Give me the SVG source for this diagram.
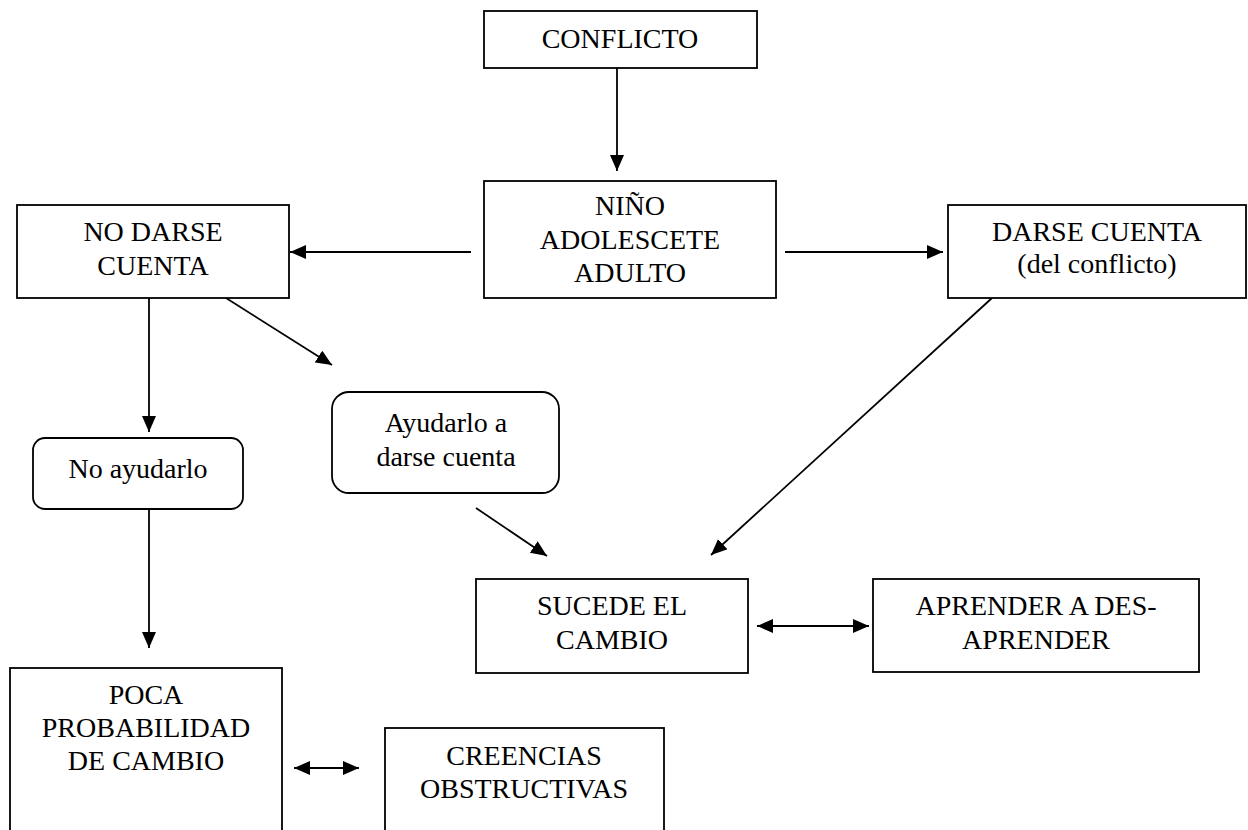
<svg xmlns="http://www.w3.org/2000/svg" width="1248" height="830" viewBox="0 0 1248 830">
  <defs>
    <marker id="head" markerUnits="userSpaceOnUse" markerWidth="17" markerHeight="15" refX="16" refY="7" orient="auto-start-reverse">
      <path d="M0,0 L16,7 L0,14 z" fill="#000"/>
    </marker>
    <style>
      .box { fill: #fff; stroke: #000; stroke-width: 1.8; }
      .lbl { font-family: "Liberation Serif", "Times New Roman", serif; font-size: 28px; fill: #000; text-anchor: middle; }
      .link { stroke: #000; stroke-width: 1.8; fill: none; marker-end: url(#head); }
      .both { marker-start: url(#head); }
    </style>
  </defs>
  <rect width="1248" height="830" fill="#fff"/>

  <g id="connectors">
    <line class="link" x1="617" y1="68" x2="617" y2="171"/>
    <line class="link" x1="471" y1="252" x2="290" y2="252"/>
    <line class="link" x1="785" y1="252" x2="943" y2="252"/>
    <line class="link" x1="149" y1="298" x2="149" y2="432"/>
    <line class="link" x1="226" y1="298" x2="332" y2="365"/>
    <line class="link" x1="149" y1="509" x2="149" y2="648"/>
    <line class="link" x1="476" y1="508" x2="547" y2="556"/>
    <line class="link" x1="992" y1="298" x2="711" y2="555"/>
    <line class="link both" x1="757" y1="626" x2="869" y2="626"/>
    <line class="link both" x1="294" y1="768" x2="359" y2="768"/>
  </g>

  <g id="conflicto">
    <rect class="box" x="484" y="11" width="273" height="57"/>
    <text class="lbl" x="620" y="48">CONFLICTO</text>
  </g>

  <g id="nino">
    <rect class="box" x="484" y="181" width="292" height="117"/>
    <text class="lbl" x="630" y="215">NIÑO</text>
    <text class="lbl" x="630" y="249">ADOLESCETE</text>
    <text class="lbl" x="630" y="282">ADULTO</text>
  </g>

  <g id="no-darse-cuenta">
    <rect class="box" x="17" y="205" width="272" height="93"/>
    <text class="lbl" x="153" y="241">NO DARSE</text>
    <text class="lbl" x="153" y="275">CUENTA</text>
  </g>

  <g id="darse-cuenta">
    <rect class="box" x="948" y="205" width="298" height="93"/>
    <text class="lbl" x="1097" y="241">DARSE CUENTA</text>
    <text class="lbl" x="1097" y="273">(del conflicto)</text>
  </g>

  <g id="no-ayudarlo">
    <rect class="box" x="33" y="438" width="210" height="71" rx="12" ry="12"/>
    <text class="lbl" x="138" y="478">No ayudarlo</text>
  </g>

  <g id="ayudarlo">
    <rect class="box" x="332" y="392" width="227" height="101" rx="17" ry="17"/>
    <text class="lbl" x="446" y="432">Ayudarlo a</text>
    <text class="lbl" x="446" y="466">darse cuenta</text>
  </g>

  <g id="sucede">
    <rect class="box" x="476" y="579" width="272" height="94"/>
    <text class="lbl" x="612" y="615">SUCEDE EL</text>
    <text class="lbl" x="612" y="649">CAMBIO</text>
  </g>

  <g id="aprender">
    <rect class="box" x="873" y="579" width="326" height="93"/>
    <text class="lbl" x="1036" y="615">APRENDER A DES-</text>
    <text class="lbl" x="1036" y="649">APRENDER</text>
  </g>

  <g id="poca">
    <rect class="box" x="10" y="668" width="272" height="180"/>
    <text class="lbl" x="146" y="704">POCA</text>
    <text class="lbl" x="146" y="737">PROBABILIDAD</text>
    <text class="lbl" x="146" y="770">DE CAMBIO</text>
  </g>

  <g id="creencias">
    <rect class="box" x="385" y="728" width="279" height="120"/>
    <text class="lbl" x="524" y="765">CREENCIAS</text>
    <text class="lbl" x="524" y="798">OBSTRUCTIVAS</text>
  </g>
</svg>
